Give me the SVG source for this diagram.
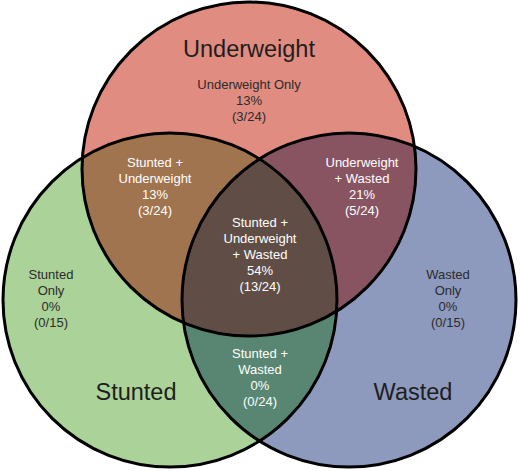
<svg xmlns="http://www.w3.org/2000/svg" width="520" height="471" viewBox="0 0 520 471">
<style>
.t{font-family:"Liberation Sans",Arial,sans-serif;font-size:13px;text-anchor:middle}
.big{font-family:"Liberation Sans",Arial,sans-serif;font-size:23.5px;text-anchor:middle;fill:#1e1e1e}
.d{fill:#2b2b2b}
.w{fill:#ffffff}
.ring{fill:none;stroke:#000;stroke-width:3}
</style>
<defs>
<clipPath id="cU"><circle cx="249" cy="169" r="167"/></clipPath>
<clipPath id="cS"><circle cx="170" cy="300" r="167"/></clipPath>
</defs>
<rect width="520" height="471" fill="#fff"/>
<g id="underweight">
<circle cx="249" cy="169" r="167" fill="#E18C80"/>
</g>
<g id="stunted">
<circle cx="170" cy="300" r="167" fill="#ABD298"/>
</g>
<g id="wasted">
<circle cx="349" cy="300" r="167" fill="#8E99BE"/>
</g>
<g id="stunted-underweight">
<circle cx="170" cy="300" r="167" fill="#A0744E" clip-path="url(#cU)"/>
</g>
<g id="underweight-wasted">
<circle cx="349" cy="300" r="167" fill="#885462" clip-path="url(#cU)"/>
</g>
<g id="stunted-wasted">
<circle cx="349" cy="300" r="167" fill="#588672" clip-path="url(#cS)"/>
</g>
<g id="all-three" clip-path="url(#cU)">
<circle cx="349" cy="300" r="167" fill="#604E46" clip-path="url(#cS)"/>
</g>
<g id="outlines">
<circle class="ring" cx="249" cy="169" r="167"/>
<circle class="ring" cx="170" cy="300" r="167"/>
<circle class="ring" cx="349" cy="300" r="167"/>
</g>
<g id="labels">
<text class="big" x="249" y="57">Underweight</text>
<text class="big" x="136" y="400">Stunted</text>
<text class="big" x="413" y="400">Wasted</text>

<text class="t d" x="249" y="89">Underweight Only</text>
<text class="t d" x="249" y="105">13%</text>
<text class="t d" x="249" y="121">(3/24)</text>

<text class="t w" x="155" y="167">Stunted +</text>
<text class="t w" x="155" y="183">Underweight</text>
<text class="t w" x="155" y="199">13%</text>
<text class="t w" x="155" y="215">(3/24)</text>

<text class="t w" x="362" y="167">Underweight</text>
<text class="t w" x="362" y="183">+ Wasted</text>
<text class="t w" x="362" y="199">21%</text>
<text class="t w" x="362" y="215">(5/24)</text>

<text class="t w" x="260" y="227">Stunted +</text>
<text class="t w" x="260" y="243">Underweight</text>
<text class="t w" x="260" y="259">+ Wasted</text>
<text class="t w" x="260" y="275">54%</text>
<text class="t w" x="260" y="291">(13/24)</text>

<text class="t d" x="51" y="279">Stunted</text>
<text class="t d" x="51" y="295">Only</text>
<text class="t d" x="51" y="311">0%</text>
<text class="t d" x="51" y="327">(0/15)</text>

<text class="t d" x="448" y="279">Wasted</text>
<text class="t d" x="448" y="295">Only</text>
<text class="t d" x="448" y="311">0%</text>
<text class="t d" x="448" y="327">(0/15)</text>

<text class="t w" x="260" y="358">Stunted +</text>
<text class="t w" x="260" y="374">Wasted</text>
<text class="t w" x="260" y="390">0%</text>
<text class="t w" x="260" y="406">(0/24)</text>
</g>
</svg>
